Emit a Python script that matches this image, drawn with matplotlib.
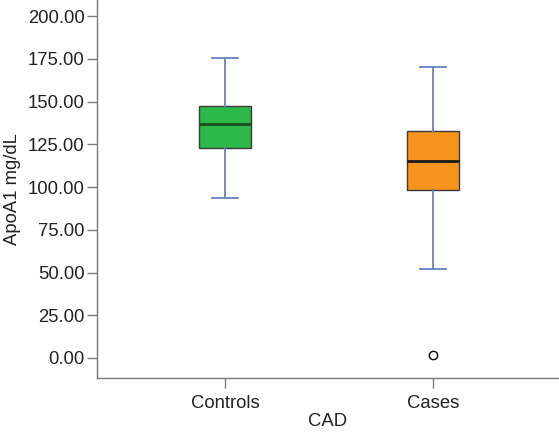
import matplotlib
matplotlib.use('Agg')
import matplotlib.pyplot as plt

plt.rcParams['font.family'] = ['Liberation Sans', 'DejaVu Sans']

groups = ['Controls', 'Cases']
whislo = [93.8, 52.2]
q1 = [123.1, 98.2]
med = [136.7, 115.2]
q3 = [147.5, 132.8]
whishi = [175.7, 170.5]
fliers = [[], [1.8]]
colors = ['#2db84a', '#f7941d']
median_colors = ['#1a4d22', '#1a1a1a']
yticks = [0, 25, 50, 75, 100, 125, 150, 175, 200]

stats = []
for i, g in enumerate(groups):
    stats.append({'label': g, 'whislo': whislo[i], 'q1': q1[i], 'med': med[i],
                  'q3': q3[i], 'whishi': whishi[i], 'fliers': fliers[i]})

fig = plt.figure(figsize=(5.59, 4.32), dpi=100)
ax = fig.add_axes([0.1735, 0.125, 0.8265, 0.875])

bp = ax.bxp(stats, positions=[1, 2], widths=0.25, patch_artist=True,
            boxprops=dict(edgecolor='#3a3a3a', linewidth=1.0),
            medianprops=dict(color='black', linewidth=2),
            whiskerprops=dict(color='#6c7fc4', linewidth=1.3),
            capprops=dict(color='#6c7fc4', linewidth=1.3),
            capwidths=0.125,
            flierprops=dict(marker='o', markerfacecolor='white', markeredgecolor='black',
                            markersize=6, markeredgewidth=1.0))
for patch, c in zip(bp['boxes'], colors):
    patch.set_facecolor(c)
for line, c in zip(bp['medians'], median_colors):
    line.set_color(c)

ax.set_xlim(0.385, 2.606)
ax.set_ylim(-11.7, 209.4)
ax.set_yticks(yticks)
ax.set_yticklabels([f'{v:.2f}' for v in yticks])
ax.set_xticks([1, 2])
ax.set_xticklabels(groups)

for s in ['top', 'right']:
    ax.spines[s].set_visible(False)
for s in ['left', 'bottom']:
    ax.spines[s].set_color('#7a7a7a')
    ax.spines[s].set_linewidth(1.0)
ax.tick_params(axis='both', direction='out', length=7, width=1.0, color='#7a7a7a',
               labelsize=13.3, labelcolor='#222222', pad=2)
ax.tick_params(axis='x', pad=5)

ax.set_ylabel('ApoA1 mg/dL', fontsize=13.3, color='#222222', labelpad=5)
ax.set_xlabel('CAD', fontsize=13.3, color='#222222', labelpad=1)

fig.savefig('out.png', dpi=100)
